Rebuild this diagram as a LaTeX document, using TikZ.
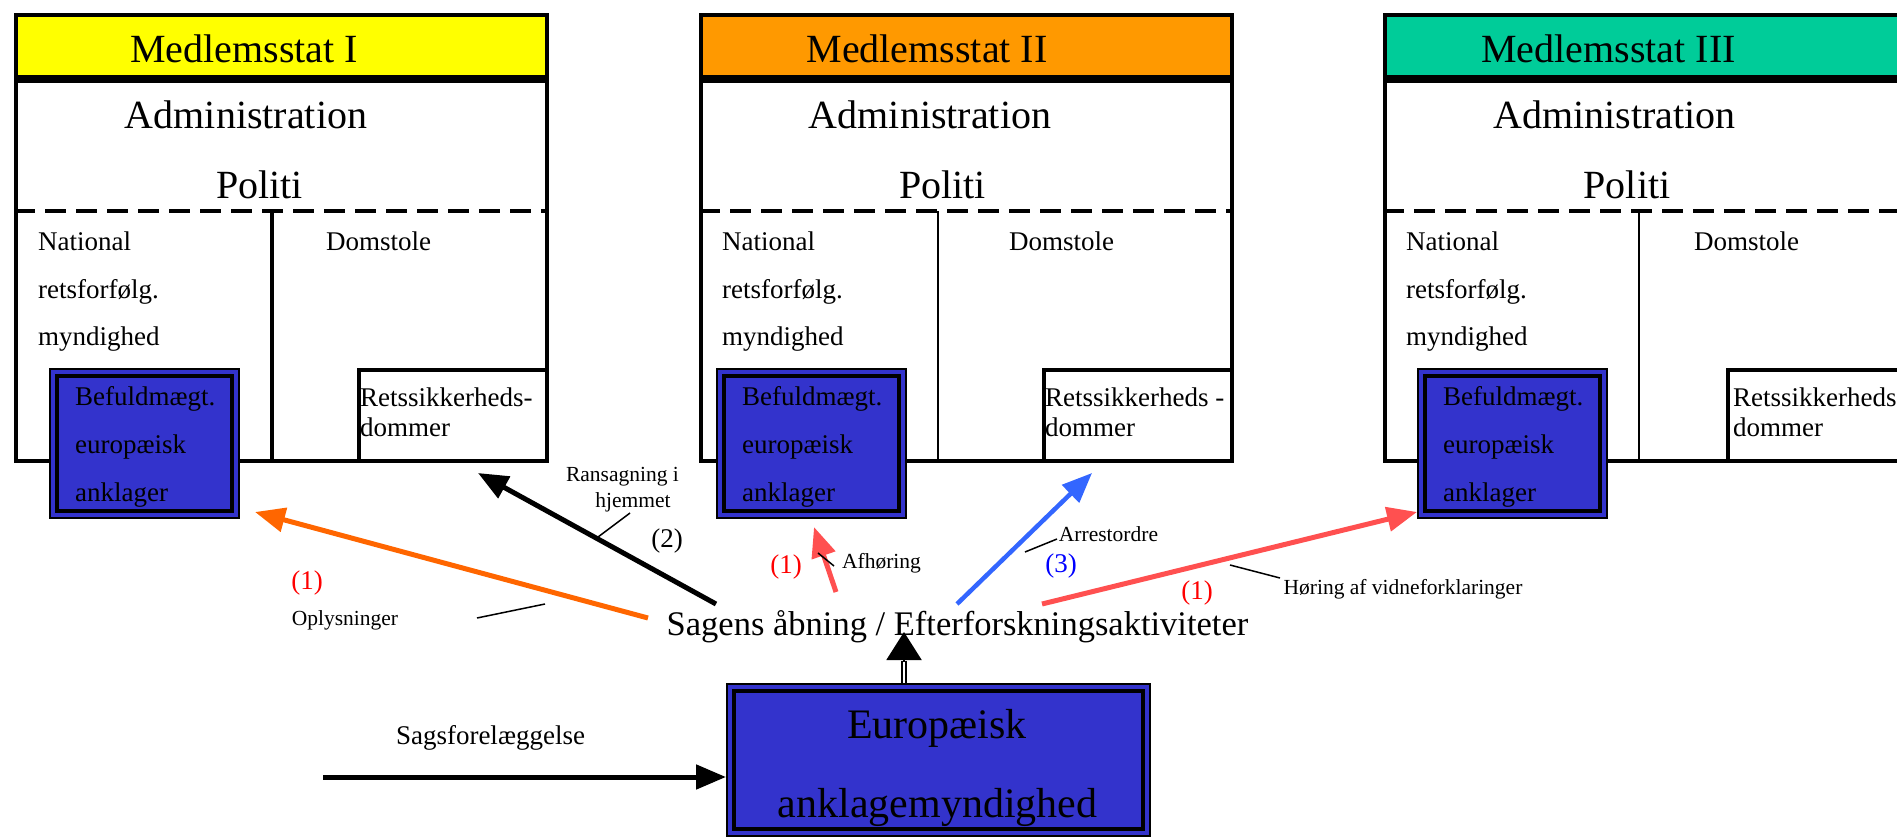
\documentclass[tikz,border=0pt]{standalone}
\usepackage{fontspec}
\setmainfont{Liberation Serif}
\usepackage{tikz}
\usetikzlibrary{arrows.meta, calc, positioning}
\usepackage{xcolor}
\definecolor{stateyellow}{HTML}{FFFF00}
\definecolor{stateorange}{HTML}{FF9900}
\definecolor{stategreen}{HTML}{00CC99}
\definecolor{euroblue}{HTML}{3333CC}
\definecolor{arroworange}{HTML}{FF6600}
\definecolor{arrowred}{HTML}{FF5050}
\definecolor{arrowblue}{HTML}{3366FF}

\begin{document}
\begin{tikzpicture}[x=1pt, y=-1pt]
        \tikzstyle{header}=[draw, line width=4pt, anchor=north west, minimum width=531pt, minimum height=62pt, inner sep=0pt]
        \tikzstyle{body}=[draw, line width=4pt, anchor=north west, minimum width=531pt, minimum height=380pt, inner sep=0pt]
        \tikzstyle{judgebox}=[draw, fill=white, line width=4pt, anchor=south east, minimum width=188pt, minimum height=91pt, inner sep=0pt]
        \tikzstyle{agentbox}=[draw, fill=euroblue, line width=2pt, anchor=north west, minimum width=189pt, minimum height=149pt, inner sep=0pt,
            path picture={\draw[line width=3.5pt] ($(path picture bounding box.north west)+(7,7)$) rectangle ($(path picture bounding box.south east)+(-7,-7)$);}]
        \tikzstyle{bigtext}=[anchor=base, inner sep=0pt, font=\fontsize{40}{48}\selectfont]
        \tikzstyle{midtext}=[anchor=base west, inner sep=0pt, font=\fontsize{27}{32}\selectfont]
        \tikzstyle{smalltext}=[anchor=base, inner sep=0pt, font=\fontsize{21.5}{26}\selectfont]
        \tikzstyle{arrow}=[-{Triangle[length=30pt, width=24pt]}, line width=5pt]
        \tikzstyle{leader}=[line width=1.5pt]
        \tikzstyle{dashline}=[line width=4pt, dash pattern=on 21pt off 10pt]

        \useasboundingbox (0,0) rectangle (1897,837);

        % Medlemsstat I
        \node[header, fill=stateyellow] (hdI) at (14,13) {};
        \node[body] (bdI) at (14,79) {};
        \draw[dashline] ($(bdI.north west)+(0,132)$) -- ($(bdI.north east)+(0,132)$);
        \draw[line width=4.5pt] ($(bdI.north west)+(258,132)$) -- ($(bdI.south west)+(258,0)$);
        \node[judgebox] (judgeI) at (bdI.south east) {};
        \node[agentbox] (agentI) at (49,368) {};
        \node[bigtext] (titleI) at (244,63) {Medlemsstat I};
        \node[bigtext] (adminI) at (246,129) {Administration};
        \node[bigtext] (policeI) at (259.5,199) {Politi};
        \node[midtext] (natI1) at (38,250) {National};
        \node[midtext] (natI2) at (38,298) {retsforfølg.};
        \node[midtext] (natI3) at (38,345) {myndighed};
        \node[midtext] (courtI) at (326,250) {Domstole};
        \node[midtext] (judgeI1) at (360,406) {Retssikkerheds-};
        \node[midtext] (judgeI2) at (360,436) {dommer};
        \node[midtext] (agentI1) at (75,405) {Befuldmægt.};
        \node[midtext] (agentI2) at (75,453) {europæisk};
        \node[midtext] (agentI3) at (75,501) {anklager};

        % Medlemsstat II
        \node[header, fill=stateorange] (hdII) at (699,13) {};
        \node[body] (bdII) at (699,79) {};
        \draw[dashline] ($(bdII.north west)+(0,132)$) -- ($(bdII.north east)+(0,132)$);
        \draw[line width=1.5pt] ($(bdII.north west)+(239,132)$) -- ($(bdII.south west)+(239,0)$);
        \node[judgebox] (judgeII) at (bdII.south east) {};
        \node[agentbox] (agentII) at (716,368) {};
        \node[bigtext] (titleII) at (927,63) {Medlemsstat II};
        \node[bigtext] (adminII) at (930,129) {Administration};
        \node[bigtext] (policeII) at (942.5,199) {Politi};
        \node[midtext] (natII1) at (722,250) {National};
        \node[midtext] (natII2) at (722,298) {retsforfølg.};
        \node[midtext] (natII3) at (722,345) {myndighed};
        \node[midtext] (courtII) at (1009,250) {Domstole};
        \node[midtext] (judgeII1) at (1045,406) {Retssikkerheds -};
        \node[midtext] (judgeII2) at (1045,436) {dommer};
        \node[midtext] (agentII1) at (742,405) {Befuldmægt.};
        \node[midtext] (agentII2) at (742,453) {europæisk};
        \node[midtext] (agentII3) at (742,501) {anklager};

        % Medlemsstat III
        \node[header, fill=stategreen] (hdIII) at (1383,13) {};
        \node[body] (bdIII) at (1383,79) {};
        \draw[dashline] ($(bdIII.north west)+(0,132)$) -- ($(bdIII.north east)+(0,132)$);
        \draw[line width=1.5pt] ($(bdIII.north west)+(256,132)$) -- ($(bdIII.south west)+(256,0)$);
        \node[judgebox] (judgeIII) at (bdIII.south east) {};
        \node[agentbox] (agentIII) at (1417,368) {};
        \node[bigtext] (titleIII) at (1608.5,63) {Medlemsstat III};
        \node[bigtext] (adminIII) at (1614.5,129) {Administration};
        \node[bigtext] (policeIII) at (1627,199) {Politi};
        \node[midtext] (natIII1) at (1406,250) {National};
        \node[midtext] (natIII2) at (1406,298) {retsforfølg.};
        \node[midtext] (natIII3) at (1406,345) {myndighed};
        \node[midtext] (courtIII) at (1694,250) {Domstole};
        \node[midtext] (judgeIII1) at (1733,406) {Retssikkerheds-};
        \node[midtext] (judgeIII2) at (1733,436) {dommer};
        \node[midtext] (agentIII1) at (1443,405) {Befuldmægt.};
        \node[midtext] (agentIII2) at (1443,453) {europæisk};
        \node[midtext] (agentIII3) at (1443,501) {anklager};

        % Europaeisk anklagemyndighed
        \node[agentbox, minimum width=423pt, minimum height=152pt] (ea) at (726,683) {};
        \node[bigtext, font=\fontsize{42}{50}\selectfont] (ea1) at (937,738) {Europæisk};
        \node[bigtext, font=\fontsize{42}{50}\selectfont] (ea2) at (937.5,817) {anklagemyndighed};
        \node[bigtext, font=\fontsize{34.5}{41}\selectfont] (sagens) at (957.5,635) {Sagens åbning / Efterforskningsaktiviteter};
        \node[midtext, anchor=base] (submit) at (490.5,744) {Sagsforelæggelse};

        \coordinate (submitstart) at (323,777);
        \draw[arrow] (submitstart) -- (submitstart -| ea.west);

        \coordinate (up) at (904,632);
        \draw[double, double distance=2.5pt, line width=2pt] (up |- ea.north) -- ($(up)+(0,29)$);
        \draw[-{Triangle[length=28pt, width=35pt]}, line width=2pt] ($(up)+(0,30)$) -- (up);

        % arrows out of Sagens
        \coordinate (sinfo) at (648,618);
        \coordinate (tinfo) at (255,512);
        \coordinate (ssearch) at (716,604);
        \coordinate (tsearch) at (478,473);
        \coordinate (shear) at (836,592);
        \coordinate (thear) at (814,527);
        \coordinate (sarrest) at (957,604);
        \coordinate (tarrest) at (1092,473);
        \coordinate (switness) at (1042,604);
        \coordinate (twitness) at (1417,512);
        \draw[arrow, arroworange] (sinfo) -- (tinfo);
        \draw[arrow] (ssearch) -- (tsearch);
        \draw[arrow, arrowred] (shear) -- (thear);
        \draw[arrow, arrowblue, line width=4.5pt] (sarrest) -- (tarrest);
        \draw[arrow, arrowred] (switness) -- (twitness);

        % labels
        \node[midtext, anchor=base, text=red] (ninfo) at (307,589) {(1)};
        \node[smalltext] (linfo) at (345,625) {Oplysninger};
        \node[smalltext] (lsearch1) at (622.5,481) {Ransagning i};
        \node[smalltext] (lsearch2) at (633,507) {hjemmet};
        \node[midtext, anchor=base] (nsearch) at (667,547) {(2)};
        \node[midtext, anchor=base, text=red] (nhear) at (786,573) {(1)};
        \node[smalltext] (lhear) at (881.5,568) {Afhøring};
        \node[smalltext] (larrest) at (1108.5,541) {Arrestordre};
        \node[midtext, anchor=base, text=blue] (narrest) at (1061,572) {(3)};
        \node[midtext, anchor=base, text=red] (nwitness) at (1197,599) {(1)};
        \node[smalltext] (lwitness) at (1403,594) {Høring af vidneforklaringer};

        \coordinate (kinfoA) at (477,618);
        \coordinate (kinfoB) at (545,604);
        \coordinate (ksearchA) at (630,513);
        \coordinate (ksearchB) at (598,537);
        \coordinate (khearA) at (818,553);
        \coordinate (khearB) at (834,566);
        \coordinate (karrestA) at (1025,552);
        \coordinate (karrestB) at (1057,539);
        \coordinate (kwitnessA) at (1230,565);
        \coordinate (kwitnessB) at (1280,578);
        \draw[leader] (kinfoA) -- (kinfoB);
        \draw[leader] (ksearchA) -- (ksearchB);
        \draw[leader] (khearA) -- (khearB);
        \draw[leader] (karrestA) -- (karrestB);
        \draw[leader] (kwitnessA) -- (kwitnessB);
    \end{tikzpicture}
\end{document}
